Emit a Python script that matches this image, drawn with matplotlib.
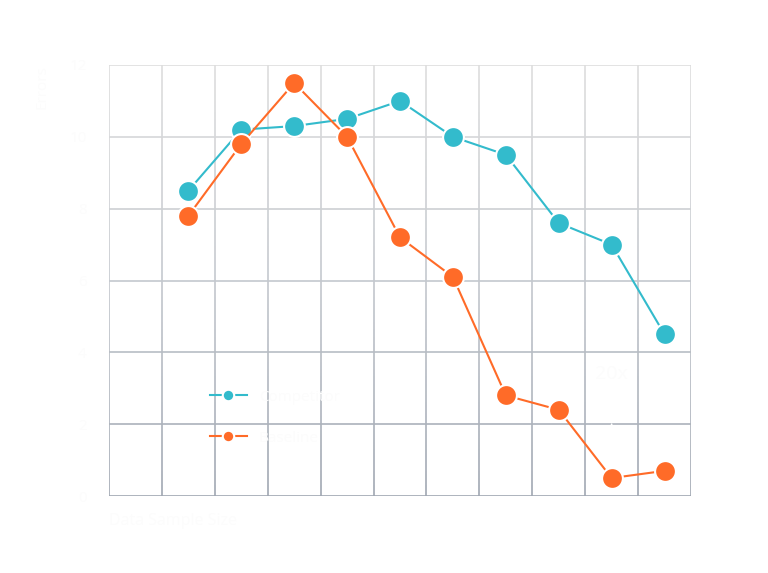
import numpy as np
import matplotlib
matplotlib.use("Agg")
import matplotlib.pyplot as plt
from matplotlib.collections import LineCollection
from matplotlib.colors import LinearSegmentedColormap

# data
positions = [1.5, 2.5, 3.5, 4.5, 5.5, 6.5, 7.5, 8.5, 9.5, 10.5]
competitor = [8.5, 10.2, 10.3, 10.5, 11.0, 10.0, 9.5, 7.6, 7.0, 4.5]
baseline = [7.8, 9.8, 11.5, 10.0, 7.2, 6.1, 2.8, 2.4, 0.5, 0.7]
yticks = [0, 2, 4, 6, 8, 10, 12]
xgrid = list(range(0, 12))

teal = "#33BBCC"
orange = "#FF6B28"
txt = "#fcfcfc"

plt.rcParams['font.family'] = ['Open Sans', 'DejaVu Sans']

fig = plt.figure(figsize=(7.68, 5.73), dpi=100)
ax = fig.add_axes([109/768, 77/573, 582/768, 431/573])
ax.set_xlim(0, 11)
ax.set_ylim(0, 12)
for s in ax.spines.values():
    s.set_visible(False)

cmap = LinearSegmentedColormap.from_list("g", ["#a0a7b2", "#c4c8ce", "#dedede"])
# horizontal grid lines
for yv in yticks:
    ax.axhline(yv, color=cmap(yv / 12), lw=1.2, zorder=0)
# vertical grid lines with gradient
ys = np.linspace(0, 12, 120)
segs, cols = [], []
for xv in xgrid:
    for i in range(len(ys) - 1):
        segs.append([(xv, ys[i]), (xv, ys[i + 1])])
        cols.append(cmap((ys[i] + ys[i + 1]) / 24))
ax.add_collection(LineCollection(segs, colors=cols, lw=1.2, zorder=0))

ax.plot(positions, competitor, color=teal, lw=1.5, marker="o", ms=15,
        mec="white", mew=1.5, label="Competitor", zorder=3)
ax.plot(positions, baseline, color=orange, lw=1.5, marker="o", ms=15,
        mec="white", mew=1.5, label="Baseline", zorder=3)

# annotation
ax.annotate("", xy=(9.5, 1.0), xytext=(9.5, 6.3),
            arrowprops=dict(arrowstyle="-", color="white", lw=1.2, ls=(0, (4, 3))),
            zorder=2)
ax.text(9.5, 3.4, "20x", color=txt, ha="center", va="center", fontsize=14,
        zorder=2)

ax.set_xticks(xgrid)
ax.set_xticklabels([])
ax.set_yticks(yticks)
ax.set_yticklabels([str(v) for v in yticks], color=txt, fontsize=11)
ax.tick_params(length=0, pad=16)
ax.set_xlabel("Data Sample Size", color=txt, fontsize=11.5, loc="left", labelpad=-4)
ax.set_ylabel("Errors", color=txt, fontsize=11, loc="top", labelpad=14)

leg = ax.legend(loc="lower left", bbox_to_anchor=(0.15, 0.085), frameon=False,
                fontsize=11, markerscale=0.55, handlelength=2.4, labelspacing=1.7)
for t in leg.get_texts():
    t.set_color(txt)

fig.savefig("out.png", dpi=100, facecolor="white")
